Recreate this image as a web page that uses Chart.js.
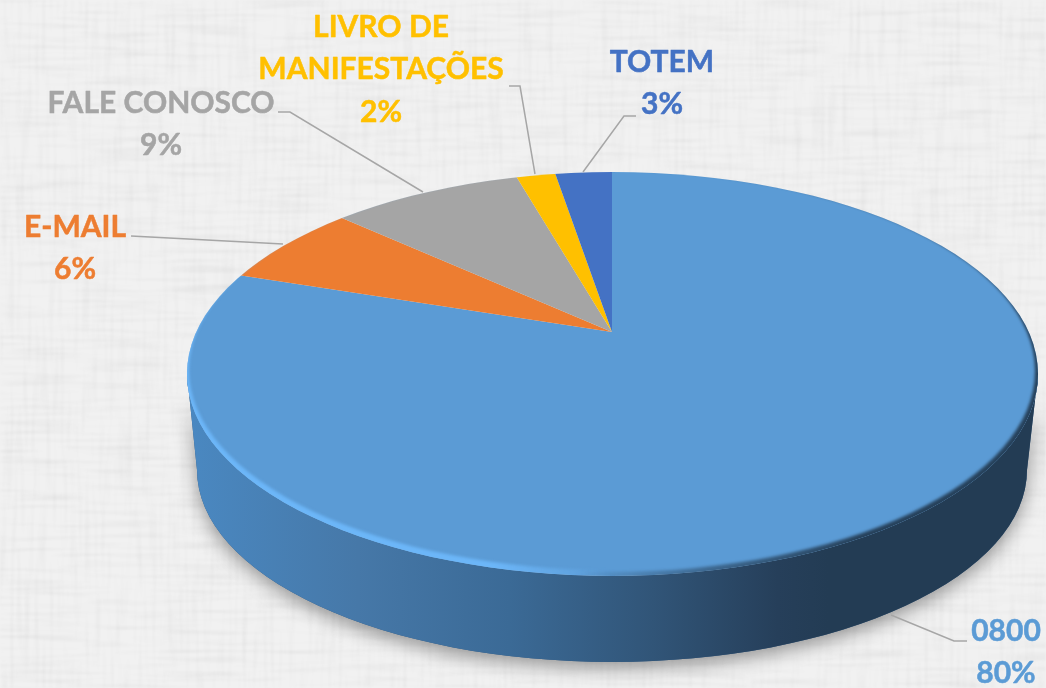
<!DOCTYPE html>
<html lang="pt">
<head>
<meta charset="utf-8">
<title>Canais</title>
<script src="https://cdn.jsdelivr.net/npm/chart.js@4"></script>
<style>
  html, body { margin: 0; padding: 0; }
  body {
    width: 1046px;
    height: 688px;
    overflow: hidden;
    background-color: #f1f1f1;
  }
  #linen { position: absolute; left: 0; top: 0; }
  canvas { display: block; position: relative; }
</style>
</head>
<body>
<!-- linen look of the slide behind the chart -->
<svg id="linen" width="1046" height="688" aria-hidden="true">
  <filter id="weaveH" x="0" y="0" width="100%" height="100%">
    <feTurbulence type="fractalNoise" baseFrequency="0.012 0.28" numOctaves="3" seed="4"/>
    <feColorMatrix values="0 0 0 0 0  0 0 0 0 0  0 0 0 0 0  1.1 0 0 0 -0.5"/>
    <feGaussianBlur stdDeviation="1"/>
  </filter>
  <filter id="weaveV" x="0" y="0" width="100%" height="100%">
    <feTurbulence type="fractalNoise" baseFrequency="0.28 0.012" numOctaves="3" seed="9"/>
    <feColorMatrix values="0 0 0 0 0  0 0 0 0 0  0 0 0 0 0  1.1 0 0 0 -0.5"/>
    <feGaussianBlur stdDeviation="1"/>
  </filter>
  <rect width="1046" height="688" filter="url(#weaveH)" opacity="0.09"/>
  <rect width="1046" height="688" filter="url(#weaveV)" opacity="0.07"/>
</svg>
<canvas id="pie" width="1046" height="688"></canvas>
<script>
const categories = ["0800", "E-MAIL", "FALE CONOSCO", "LIVRO DE MANIFESTAÇÕES", "TOTEM"];
const shares = [80, 6.67, 8.86, 1.82, 2.65];
const shareLabels = ["80%", "6%", "9%", "2%", "3%"];
const sliceColors = ["#5b9bd5", "#ed7d31", "#a5a5a5", "#ffc000", "#4472c4"];

// text lines and where they sit, one entry per category
const labelLines = [["0800"], ["E-MAIL"], ["FALE CONOSCO"], ["LIVRO DE", "MANIFESTAÇÕES"], ["TOTEM"]];
const labelCenters = [[1006, 631], [75, 227], [161, 103], [381, 27], [662, 62]];
const leaderLines = [
  [[967, 641], [954, 641], [891, 615]],
  [[131, 236], [283, 244]],
  [[278, 112], [290, 112], [423, 192]],
  [[509, 86], [520, 86], [535, 174]],
  [[636, 116], [624, 116], [583, 172]],
];

// the pie is seen in perspective, so the apex is not the middle of the top ellipse
const apex = { x: 612, y: 332 };
const top3d = { x: 612.5, y: 374, rx: 425.5, ry: 202 };
const bottom3d = { x: 612, y: 470, rx: 415, ry: 192 };
const axisX = 414;
const axisY = 194;

// moves an angle measured on the flat pie to where it lands on the tilted one
function tilt(angle) {
  const t = angle + Math.PI / 2;
  if (t >= Math.PI * 2 - 1e-6) return Math.PI * 1.5;
  let s = Math.atan2(axisX * Math.sin(t), axisY * Math.cos(t));
  if (s < 0) s += Math.PI * 2;
  return s - Math.PI / 2;
}

// ring between the top ellipse and a smaller one pushed by dx, dy
function crescent(ctx, inset, dx, dy) {
  ctx.beginPath();
  ctx.ellipse(top3d.x, top3d.y, top3d.rx + 4, top3d.ry + 4, 0, 0, Math.PI * 2);
  ctx.ellipse(top3d.x + dx, top3d.y + dy, top3d.rx - inset, top3d.ry - inset, 0, 0, Math.PI * 2);
  ctx.fill("evenodd");
}

const pie3d = {
  id: "pie3d",
  afterDatasetUpdate(chart) {
    chart.getDatasetMeta(0).data.forEach((arc) => {
      const start = tilt(arc.startAngle);
      const end = tilt(arc.endAngle);
      arc.x = apex.x;
      arc.y = apex.y;
      arc.outerRadius = 1500;
      arc.startAngle = start;
      arc.endAngle = end;
      arc.circumference = end - start;
    });
  },
  beforeDatasetsDraw(chart) {
    const ctx = chart.ctx;
    // wall of the disc with its soft shadow
    const wall = new Path2D();
    wall.ellipse(top3d.x, top3d.y, top3d.rx, top3d.ry, 0, 0, Math.PI, false);
    wall.ellipse(bottom3d.x, bottom3d.y, bottom3d.rx, bottom3d.ry, 0, Math.PI, 0, true);
    wall.closePath();

    ctx.save();
    ctx.shadowColor = "rgba(0, 0, 0, 0.38)";
    ctx.shadowBlur = 18;
    ctx.shadowOffsetY = 6;
    ctx.fillStyle = "#33587f";
    ctx.fill(wall);
    ctx.restore();

    const shade = ctx.createLinearGradient(190, 0, 1030, 0);
    shade.addColorStop(0, "#4a88c1");
    shade.addColorStop(0.2, "#4678a8");
    shade.addColorStop(0.38, "#3b6a96");
    shade.addColorStop(0.55, "#315578");
    shade.addColorStop(0.7, "#263f5a");
    shade.addColorStop(0.76, "#233c54");
    shade.addColorStop(1, "#233c54");
    ctx.fillStyle = shade;
    ctx.fill(wall);
  },
  beforeDatasetDraw(chart) {
    const ctx = chart.ctx;
    ctx.save();
    ctx.beginPath();
    ctx.ellipse(top3d.x, top3d.y, top3d.rx, top3d.ry, 0, 0, Math.PI * 2);
    ctx.clip();
  },
  afterDatasetDraw(chart) {
    const ctx = chart.ctx;
    // rounded rim of the top face: light on the left, dark on the right
    ctx.filter = "blur(1.6px)";
    const light = ctx.createLinearGradient(190, 0, 1030, 0);
    light.addColorStop(0, "rgba(108, 182, 248, 1)");
    light.addColorStop(0.36, "rgba(108, 182, 248, 1)");
    light.addColorStop(0.5, "rgba(108, 182, 248, 0)");
    ctx.fillStyle = light;
    crescent(ctx, 2, 0, -4);

    const dark = ctx.createLinearGradient(190, 0, 1030, 0);
    dark.addColorStop(0.46, "rgba(35, 60, 84, 0)");
    dark.addColorStop(0.62, "rgba(35, 60, 84, 0.55)");
    dark.addColorStop(0.8, "rgba(35, 60, 84, 0.95)");
    ctx.fillStyle = dark;
    crescent(ctx, 1, -2, -3);
    ctx.filter = "none";
    ctx.restore();
  },
  afterDatasetsDraw(chart) {
    const ctx = chart.ctx;
    ctx.save();
    ctx.strokeStyle = "#a6a6a6";
    ctx.lineWidth = 1.5;
    leaderLines.forEach((line) => {
      ctx.beginPath();
      line.forEach((p, i) => (i ? ctx.lineTo(p[0], p[1]) : ctx.moveTo(p[0], p[1])));
      ctx.stroke();
    });

    ctx.font = "bold 30px Lato";
    ctx.textAlign = "center";
    ctx.textBaseline = "middle";
    ctx.lineWidth = 0.5;
    ctx.lineJoin = "round";
    categories.forEach((name, i) => {
      const lines = labelLines[i].concat(shareLabels[i]);
      ctx.fillStyle = sliceColors[i];
      ctx.strokeStyle = sliceColors[i];
      lines.forEach((text, n) => {
        const y = labelCenters[i][1] + n * 42.5;
        ctx.fillText(text, labelCenters[i][0], y);
        ctx.strokeText(text, labelCenters[i][0], y);
      });
    });
    ctx.restore();
  },
};

new Chart(document.getElementById("pie"), {
  type: "pie",
  data: {
    labels: categories,
    datasets: [
      {
        data: shares,
        backgroundColor: sliceColors,
        borderWidth: 0,
      },
    ],
  },
  options: {
    responsive: false,
    animation: false,
    events: [],
    plugins: {
      legend: { display: false },
      tooltip: { enabled: false },
    },
  },
  plugins: [pie3d],
});
</script>
</body>
</html>
